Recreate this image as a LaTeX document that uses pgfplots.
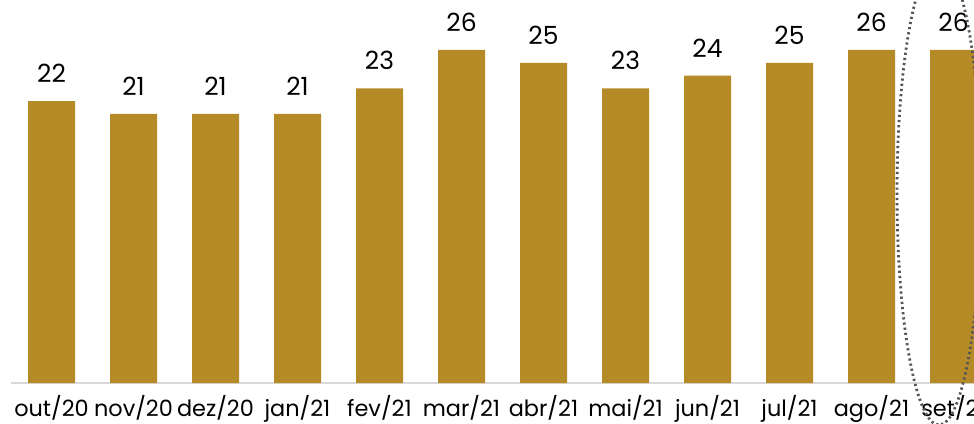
\documentclass[border=0pt]{standalone}
\usepackage{pgfplots}
\pgfplotsset{compat=1.18}
\usepackage{fontspec}
\setmainfont{Poppins}
\definecolor{barc}{RGB}{181,139,40}
\definecolor{axc}{RGB}{217,217,217}
\definecolor{dotc}{RGB}{85,85,85}
\begin{document}
\begin{tikzpicture}
\useasboundingbox (0pt,0pt) rectangle (487pt,211.5pt);
\begin{axis}[
  at={(5.5pt,20pt)}, anchor=south west,
  scale only axis, width=481.5pt, height=191.5pt,
  xmin=-0.494, xmax=11.25, ymin=0, ymax=29.9,
  ybar, bar width=23.5pt, bar shift=0pt,
  axis y line=none, axis x line*=bottom,
  x axis line style={draw=axc, line width=1pt, -},
  xtick=data, major tick length=0pt,
  xticklabels={out/20,nov/20,dez/20,jan/21,fev/21,mar/21,abr/21,mai/21,jun/21,jul/21,ago/21,set/21},
  xticklabel style={anchor=base, yshift=-16.5pt, inner sep=0pt, font=\fontsize{11.2}{13}\selectfont},
  /pgf/number format/assume math mode=true,
  nodes near coords,
  every node near coord/.append style={anchor=south, inner sep=0pt, yshift=9pt, font=\fontsize{12.5}{14}\selectfont, text=black},
  clip=true,
]
\addplot[fill=barc, draw=none] coordinates {
(0,22) (1,21) (2,21) (3,21) (4,23) (5,26) (6,25) (7,23) (8,24) (9,25) (10,26) (11,26)};
\end{axis}
\draw[dotc, line width=1.4pt, dash pattern=on 1.1pt off 1.5pt] (469.5pt,115pt) ellipse [x radius=21pt, y radius=116pt];
\end{tikzpicture}
\end{document}
